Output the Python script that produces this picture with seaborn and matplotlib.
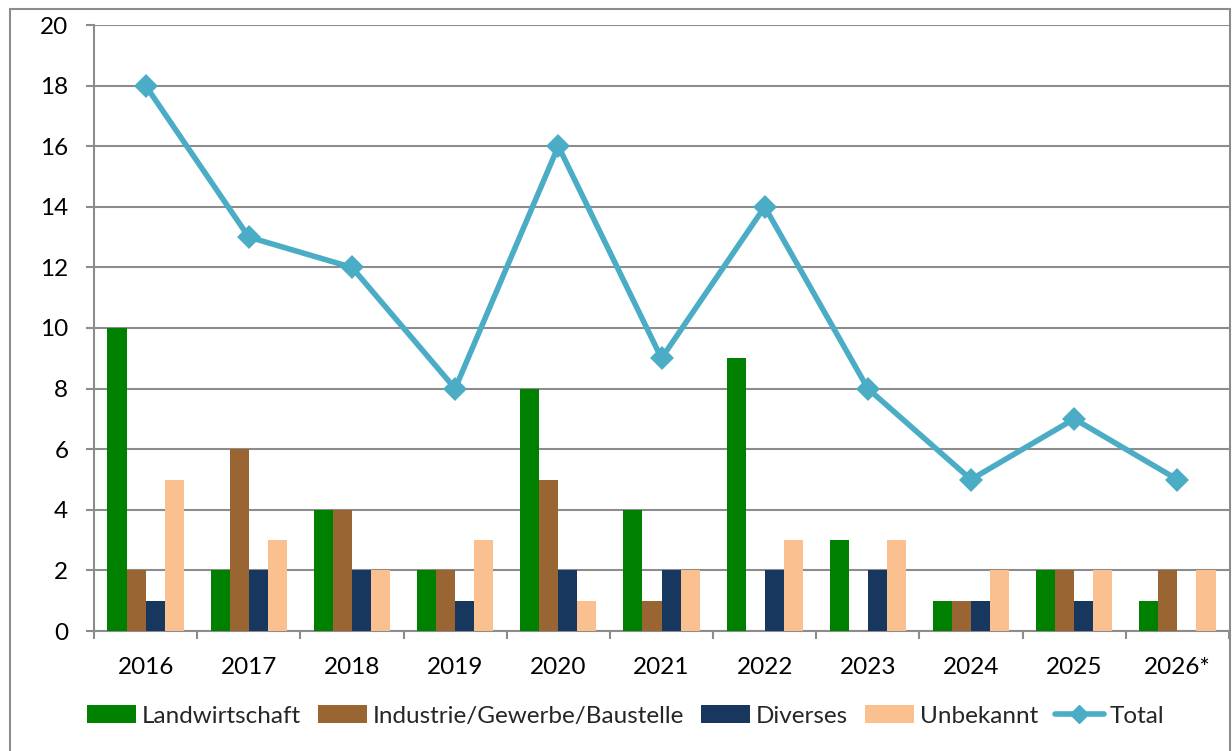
import matplotlib
matplotlib.use("Agg")
import matplotlib.pyplot as plt
import seaborn as sns
import pandas as pd
import numpy as np
from matplotlib.patches import Rectangle
from matplotlib.lines import Line2D
from matplotlib.patches import Patch

years = ["2016", "2017", "2018", "2019", "2020", "2021", "2022", "2023", "2024", "2025", "2026*"]
landwirtschaft = [10, 2, 4, 2, 8, 4, 9, 3, 1, 2, 1]
industrie = [2, 6, 4, 2, 5, 1, 0, 0, 1, 2, 2]
diverses = [1, 2, 2, 1, 2, 2, 2, 2, 1, 1, 0]
unbekannt = [5, 3, 2, 3, 1, 2, 3, 3, 2, 2, 2]
total = [18, 13, 12, 8, 16, 9, 14, 8, 5, 7, 5]
series_names = ["Landwirtschaft", "Industrie/Gewerbe/Baustelle", "Diverses", "Unbekannt"]
colors = ["#008000", "#996633", "#17375E", "#FAC090"]
line_color = "#4BACC6"

sns.set_theme(style="white")
plt.rcParams['font.family'] = ['Lato', 'DejaVu Sans']

rows = []
for name, vals in zip(series_names, [landwirtschaft, industrie, diverses, unbekannt]):
    for y, v in zip(years, vals):
        rows.append({"Jahr": y, "Serie": name, "Wert": v})
df = pd.DataFrame(rows)
df_total = pd.DataFrame({"Jahr": years, "Total": total})

fig = plt.figure(figsize=(12.32, 7.51), dpi=100)
ax = fig.add_axes([94/1232, 1 - 631/751, (1229 - 94)/1232, (631 - 25)/751])

sns.barplot(data=df, x="Jahr", y="Wert", hue="Serie", order=years, hue_order=series_names,
            palette=colors, width=0.74, gap=0, saturation=1, ax=ax, legend=False, zorder=3,
            linewidth=0)
sns.pointplot(data=df_total, x="Jahr", y="Total", order=years, color=line_color,
              markers="D", markersize=9, linewidth=4, ax=ax, zorder=4)

ax.set_ylim(0, 20)
ax.set_xlim(-0.5, len(years) - 0.5)
ax.set_yticks(range(0, 21, 2))
ax.set_xlabel("")
ax.set_ylabel("")
ax.yaxis.grid(True, color="#8C8C8C", linewidth=1.5, zorder=0)
ax.set_axisbelow(True)
for s in ["top", "right"]:
    ax.spines[s].set_visible(False)
for s in ["left", "bottom"]:
    ax.spines[s].set_color("#8C8C8C")
    ax.spines[s].set_linewidth(1.5)

ax.tick_params(axis="y", which="major", direction="out", length=6, width=1.5, color="#8C8C8C",
               labelsize=17.5, pad=12.5, left=True)
ax.tick_params(axis="x", which="major", length=0, labelsize=17.5, pad=19)
ax.set_xticks(np.arange(-0.5, len(years), 1), minor=True)
ax.tick_params(axis="x", which="minor", direction="out", length=6, width=1.5, color="#8C8C8C", bottom=True)
for lab in ax.get_xticklabels() + ax.get_yticklabels():
    lab.set_color("black")

handles = [Patch(facecolor=c, edgecolor="none") for c in colors]
handles.append(Line2D([0], [0], color=line_color, lw=4, marker="D", markersize=9))
fig.legend(handles, series_names + ["Total"], loc="center", bbox_to_anchor=(0.508, 1 - 716/751),
           ncol=5, frameon=False, fontsize=17.5, handlelength=2.0, handletextpad=0.25, columnspacing=0.7)

fig.patches.append(Rectangle((10/1232, -0.05), (1230 - 10)/1232, 1 - 9/751 + 0.05,
                             transform=fig.transFigure, fill=False, edgecolor="#8C8C8C", lw=1.5))

fig.savefig("out.png", dpi=100)
